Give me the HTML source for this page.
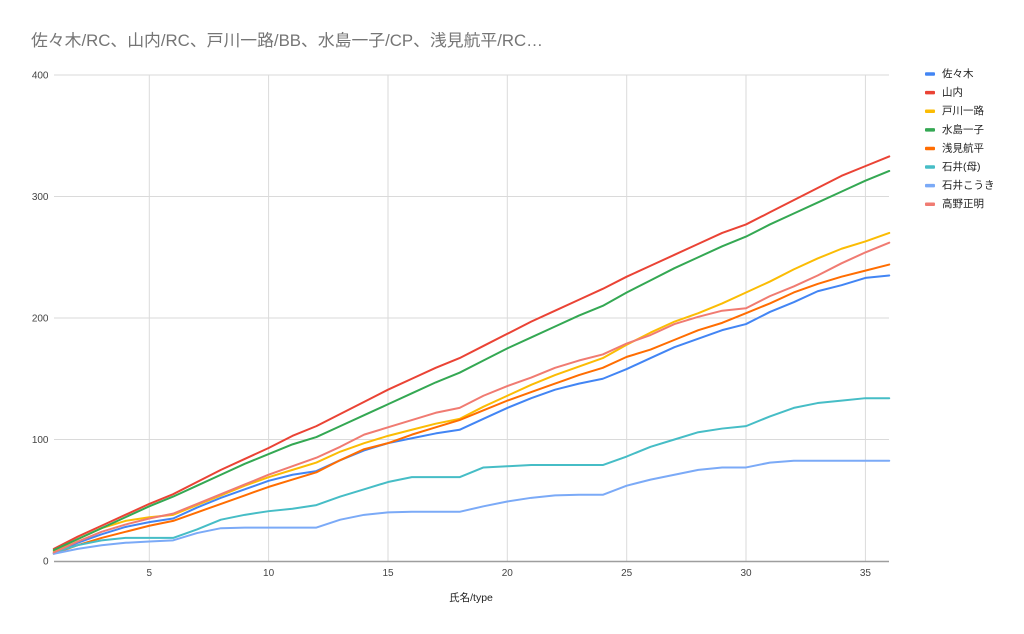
<!DOCTYPE html>
<html><head><meta charset="utf-8"><style>
html,body{margin:0;padding:0;background:#fff;}
svg{display:block;}
text{font-family:"Liberation Sans","Noto Sans CJK JP",sans-serif;}
</style></head><body>
<svg width="1024" height="634" viewBox="0 0 1024 634" xmlns="http://www.w3.org/2000/svg">
<rect width="1024" height="634" fill="#fff"/>
<text x="31" y="46" font-size="16.5" fill="#757575" textLength="512" lengthAdjust="spacingAndGlyphs">佐々木/RC、山内/RC、戸川一路/BB、水島一子/CP、浅見航平/RC…</text>
<g stroke="#dadada" stroke-width="1" fill="none">
<line x1="54" y1="75" x2="889" y2="75"/>
<line x1="54" y1="196.5" x2="889" y2="196.5"/>
<line x1="54" y1="318" x2="889" y2="318"/>
<line x1="54" y1="439.5" x2="889" y2="439.5"/>
<line x1="149.3" y1="75" x2="149.3" y2="561"/>
<line x1="268.6" y1="75" x2="268.6" y2="561"/>
<line x1="388" y1="75" x2="388" y2="561"/>
<line x1="507.3" y1="75" x2="507.3" y2="561"/>
<line x1="626.7" y1="75" x2="626.7" y2="561"/>
<line x1="746" y1="75" x2="746" y2="561"/>
<line x1="865.4" y1="75" x2="865.4" y2="561"/>
</g>
<g font-size="10" fill="#444" text-anchor="end">
<text x="48.5" y="78.5">400</text>
<text x="48.5" y="200">300</text>
<text x="48.5" y="321.5">200</text>
<text x="48.5" y="443">100</text>
<text x="48.5" y="564.5">0</text>
</g>
<g font-size="10" fill="#444" text-anchor="middle">
<text x="149.3" y="576">5</text>
<text x="268.6" y="576">10</text>
<text x="388" y="576">15</text>
<text x="507.3" y="576">20</text>
<text x="626.7" y="576">25</text>
<text x="746" y="576">30</text>
<text x="865.4" y="576">35</text>
<text x="471" y="601" font-size="10.5" fill="#222">氏名/type</text>
</g>
<g transform="matrix(23.87,0,0,-1.215,29.93,561)" fill="none" stroke-width="2" stroke-linejoin="round" stroke-linecap="round">
<polyline vector-effect="non-scaling-stroke" stroke="#4285f4" points="1,6 2,15 3,22 4,28 5,32 6,35 7,44 8,52 9,59 10,66 11,71 12,74 13,83 14,91 15,97 16,101 17,105 18,108 19,117 20,126 21,134 22,141 23,146 24,150 25,158 26,167 27,176 28,183 29,190 30,195 31,205 32,213 33,222 34,227 35,233 36,235"/>
<polyline vector-effect="non-scaling-stroke" stroke="#ea4335" points="1,10 2,20 3,29 4,38 5,47 6,55 7,65 8,75 9,84 10,93 11,103 12,111 13,121 14,131 15,141 16,150 17,159 18,167 19,177 20,187 21,197 22,206 23,215 24,224 25,234 26,243 27,252 28,261 29,270 30,277 31,287 32,297 33,307 34,317 35,325 36,333"/>
<polyline vector-effect="non-scaling-stroke" stroke="#fbbc04" points="1,8 2,18 3,27 4,33 5,36 6,38 7,46 8,54 9,62 10,69 11,75 12,81 13,90 14,97 15,103 16,108 17,113 18,117 19,127 20,136 21,145 22,153 23,160 24,167 25,178 26,188 27,197 28,204 29,212 30,221 31,230 32,240 33,249 34,257 35,263 36,270"/>
<polyline vector-effect="non-scaling-stroke" stroke="#34a853" points="1,9 2,18 3,27 4,36 5,45 6,53 7,62 8,71 9,80 10,88 11,96 12,102 13,111 14,120 15,129 16,138 17,147 18,155 19,165 20,175 21,184 22,193 23,202 24,210 25,221 26,231 27,241 28,250 29,259 30,267 31,277 32,286 33,295 34,304 35,313 36,321"/>
<polyline vector-effect="non-scaling-stroke" stroke="#ff6d01" points="1,6 2,13 3,19 4,24 5,29 6,33 7,40 8,47 9,54 10,61 11,67 12,73 13,83 14,92 15,97 16,104 17,110 18,116 19,124 20,132 21,139 22,146 23,153 24,159 25,168 26,174 27,182 28,190 29,196 30,204 31,212 32,221 33,228 34,234 35,239 36,244"/>
<polyline vector-effect="non-scaling-stroke" stroke="#46bdc6" points="1,7 2,13 3,17 4,19 5,19 6,19 7,26 8,34 9,38 10,41 11,43 12,46 13,53 14,59 15,65 16,69 17,69 18,69 19,77 20,78 21,79 22,79 23,79 24,79 25,86 26,94 27,100 28,106 29,109 30,111 31,119 32,126 33,130 34,132 35,134 36,134"/>
<polyline vector-effect="non-scaling-stroke" stroke="#7baaf7" points="1,6 2,10 3,13 4,15 5,16 6,17 7,23 8,27 9,27.5 10,27.5 11,27.5 12,27.5 13,34 14,38 15,40 16,40.5 17,40.5 18,40.5 19,45 20,49 21,52 22,54 23,54.5 24,54.5 25,62 26,67 27,71 28,75 29,77 30,77 31,81 32,82.5 33,82.5 34,82.5 35,82.5 36,82.5"/>
<polyline vector-effect="non-scaling-stroke" stroke="#f07b72" points="1,7 2,16 3,24 4,30 5,35 6,39 7,47 8,55 9,63 10,71 11,78 12,85 13,94 14,104 15,110 16,116 17,122 18,126 19,136 20,144 21,151 22,159 23,165 24,170 25,179 26,186 27,195 28,201 29,206 30,208 31,218 32,226 33,235 34,245 35,254 36,262"/>
</g>
<line x1="54" y1="561.5" x2="889" y2="561.5" stroke="#9e9e9e" stroke-width="1.5"/>
<g font-size="10.5" fill="#222" dominant-baseline="central">
<rect x="925" y="72.3" width="10" height="3.5" rx="1" fill="#4285f4"/><text x="942" y="74">佐々木</text>
<rect x="925" y="90.9" width="10" height="3.5" rx="1" fill="#ea4335"/><text x="942" y="92.6">山内</text>
<rect x="925" y="109.5" width="10" height="3.5" rx="1" fill="#fbbc04"/><text x="942" y="111.2">戸川一路</text>
<rect x="925" y="128.1" width="10" height="3.5" rx="1" fill="#34a853"/><text x="942" y="129.8">水島一子</text>
<rect x="925" y="146.7" width="10" height="3.5" rx="1" fill="#ff6d01"/><text x="942" y="148.4">浅見航平</text>
<rect x="925" y="165.3" width="10" height="3.5" rx="1" fill="#46bdc6"/><text x="942" y="167">石井(母)</text>
<rect x="925" y="183.9" width="10" height="3.5" rx="1" fill="#7baaf7"/><text x="942" y="185.6">石井こうき</text>
<rect x="925" y="202.5" width="10" height="3.5" rx="1" fill="#f07b72"/><text x="942" y="204.2">高野正明</text>
</g>
</svg>
</body></html>
